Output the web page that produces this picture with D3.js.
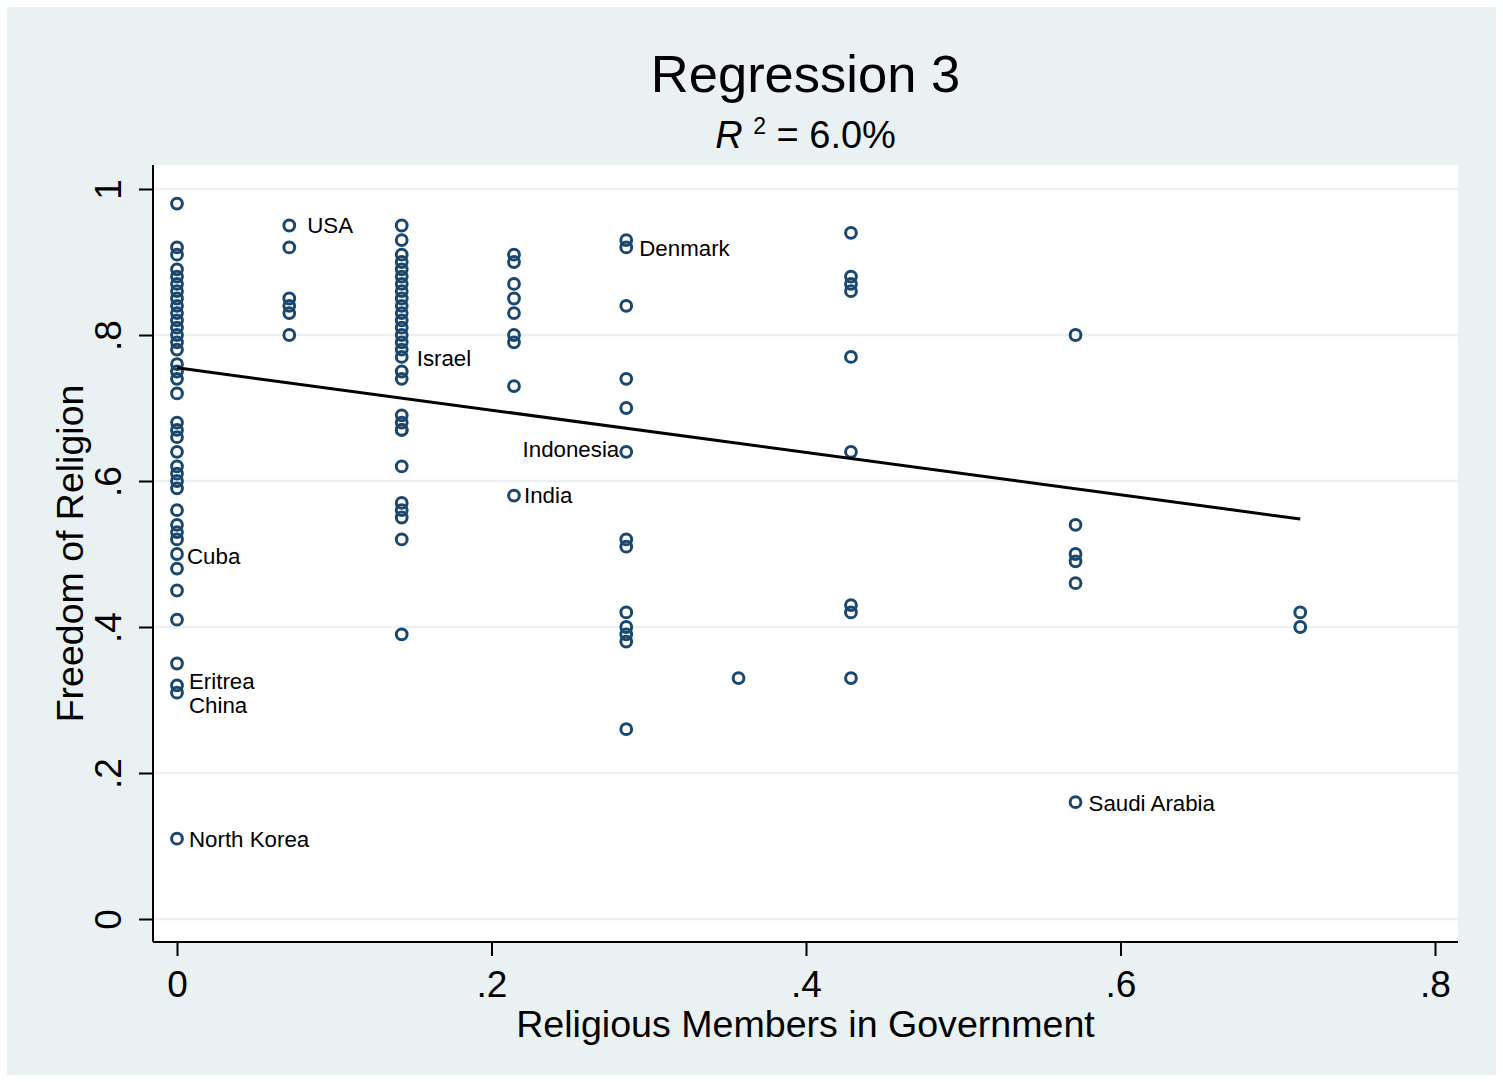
<!DOCTYPE html>
<html>
<head>
<meta charset="utf-8">
<script src="https://cdn.jsdelivr.net/npm/d3@7"></script>
<style>
  html, body { margin: 0; padding: 0; background: #fff; }
  svg { display: block; font-family: "Liberation Sans", Arial, Helvetica, sans-serif; }
</style>
</head>
<body>
<div id="chart"></div>
<script>
// religious members in government (share of cabinet), one entry per column of dots
var govLevels = [0, 0.0714, 0.1429, 0.2143, 0.2857, 0.3571, 0.4286, 0.5714, 0.7143];

var freedomAt0    = [0.98, 0.92, 0.91, 0.89, 0.88, 0.87, 0.86, 0.85, 0.84, 0.83, 0.82, 0.81, 0.80, 0.79, 0.78,
                     0.76, 0.75, 0.74, 0.72, 0.68, 0.67, 0.66, 0.64, 0.62, 0.61, 0.60, 0.59, 0.56, 0.54, 0.53,
                     0.52, 0.50, 0.48, 0.45, 0.41, 0.35, 0.32, 0.31, 0.11];
var freedomAt0071 = [0.95, 0.92, 0.85, 0.84, 0.83, 0.80];
var freedomAt0143 = [0.95, 0.93, 0.91, 0.90, 0.89, 0.88, 0.87, 0.86, 0.85, 0.84, 0.83, 0.82, 0.81, 0.80, 0.79,
                     0.78, 0.77, 0.75, 0.74, 0.69, 0.68, 0.67, 0.67, 0.62, 0.57, 0.56, 0.55, 0.52, 0.39];
var freedomAt0214 = [0.91, 0.90, 0.87, 0.85, 0.83, 0.80, 0.79, 0.73, 0.58];
var freedomAt0286 = [0.93, 0.92, 0.84, 0.74, 0.70, 0.64, 0.52, 0.51, 0.42, 0.40, 0.39, 0.38, 0.26];
var freedomAt0357 = [0.33];
var freedomAt0429 = [0.94, 0.88, 0.87, 0.86, 0.77, 0.64, 0.43, 0.42, 0.33];
var freedomAt0571 = [0.80, 0.54, 0.50, 0.49, 0.46, 0.16];
var freedomAt0714 = [0.42, 0.40];

var freedomColumns = [freedomAt0, freedomAt0071, freedomAt0143, freedomAt0214, freedomAt0286,
                      freedomAt0357, freedomAt0429, freedomAt0571, freedomAt0714];

// labelled countries: [name, government share, freedom]
var countries = [
  ["USA", 0.0714, 0.95],
  ["Denmark", 0.2857, 0.92],
  ["Israel", 0.1429, 0.77],
  ["Indonesia", 0.2857, 0.64],
  ["India", 0.2143, 0.58],
  ["Cuba", 0, 0.50],
  ["Eritrea", 0, 0.32],
  ["China", 0, 0.31],
  ["North Korea", 0, 0.11],
  ["Saudi Arabia", 0.5714, 0.16]
];

// fitted line end points
var fitLine = [[0, 0.755], [0.7143, 0.548]];

var xTicks = [0, 0.2, 0.4, 0.6, 0.8];
var yTicks = [0, 0.2, 0.4, 0.6, 0.8, 1];

var W = 1503, H = 1082;
var plot = {left: 153, right: 1458, top: 165, bottom: 942};
var bg = "#e9f1f3";
var navy = "#1a476f";

var svg = d3.select("#chart").append("svg")
    .attr("width", W)
    .attr("height", H);

svg.append("rect").attr("x", 0).attr("y", 0).attr("width", W).attr("height", H).attr("fill", "#fff");
svg.append("rect").attr("x", 7).attr("y", 7).attr("width", W - 14).attr("height", H - 14).attr("fill", bg);
svg.append("rect")
    .attr("x", plot.left).attr("y", plot.top)
    .attr("width", plot.right - plot.left).attr("height", plot.bottom - plot.top)
    .attr("fill", "#fff");

var x = d3.scaleLinear().domain([0, 0.8]).range([177, 1435]);
var y = d3.scaleLinear().domain([0, 1]).range([919, 189]);

// grid
svg.append("g").selectAll("line")
    .data(yTicks)
    .join("line")
    .attr("x1", plot.left).attr("x2", plot.right)
    .attr("y1", d => y(d)).attr("y2", d => y(d))
    .attr("stroke", bg)
    .attr("stroke-width", 2.5);

var fmt = d => d === 0 ? "0" : d === 1 ? "1" : String(d).replace(/^0/, "");

// x axis
var xAxis = svg.append("g")
    .attr("transform", "translate(0," + plot.bottom + ")")
    .call(d3.axisBottom(x).tickValues(xTicks).tickSize(14).tickSizeOuter(0).tickFormat(fmt));
xAxis.select(".domain").remove();
xAxis.append("line")
    .attr("x1", plot.left).attr("x2", plot.right)
    .attr("stroke", "#000").attr("stroke-width", 2);
xAxis.selectAll(".tick line").attr("stroke", "#000").attr("stroke-width", 2);
xAxis.selectAll(".tick text")
    .attr("y", 55)
    .attr("dy", null)
    .attr("fill", "#000")
    .style("font-size", "37px")
    .style("font-family", "'Liberation Sans', Arial, sans-serif");

// y axis
var yAxis = svg.append("g")
    .attr("transform", "translate(" + plot.left + ",0)")
    .call(d3.axisLeft(y).tickValues(yTicks).tickSize(14).tickSizeOuter(0).tickFormat(fmt));
yAxis.select(".domain").remove();
yAxis.append("line")
    .attr("y1", plot.top).attr("y2", plot.bottom)
    .attr("stroke", "#000").attr("stroke-width", 2);
yAxis.selectAll(".tick line").attr("stroke", "#000").attr("stroke-width", 2);
yAxis.selectAll(".tick text")
    .attr("x", null).attr("dy", null)
    .attr("text-anchor", "middle")
    .attr("transform", "translate(-32,0) rotate(-90)")
    .attr("fill", "#000")
    .style("font-size", "37px")
    .style("font-family", "'Liberation Sans', Arial, sans-serif");

// axis titles
svg.append("text")
    .attr("x", (plot.left + plot.right) / 2)
    .attr("y", 1037)
    .attr("text-anchor", "middle")
    .style("font-size", "37.6px")
    .text("Religious Members in Government");

svg.append("text")
    .attr("transform", "translate(83," + (plot.top + plot.bottom) / 2 + ") rotate(-90)")
    .attr("text-anchor", "middle")
    .style("font-size", "37.5px")
    .text("Freedom of Religion");

// titles
svg.append("text")
    .attr("x", (plot.left + plot.right) / 2)
    .attr("y", 92)
    .attr("text-anchor", "middle")
    .style("font-size", "52.5px")
    .text("Regression 3");

var sub = svg.append("text")
    .attr("x", (plot.left + plot.right) / 2)
    .attr("y", 148)
    .attr("text-anchor", "middle")
    .style("font-size", "38px");
sub.append("tspan").style("font-style", "italic").text("R");
sub.append("tspan").text(" ");
sub.append("tspan").attr("dy", -14).style("font-size", "23px").text("2");
sub.append("tspan").attr("dy", 14).text(" = 6.0%");

// points
var points = [];
freedomColumns.forEach(function(col, i) {
  col.forEach(function(v) { points.push({gov: govLevels[i], freedom: v}); });
});

svg.append("g").selectAll("circle")
    .data(points)
    .join("circle")
    .attr("cx", d => x(d.gov))
    .attr("cy", d => y(d.freedom))
    .attr("r", 5.4)
    .attr("fill", "none")
    .attr("stroke", navy)
    .attr("stroke-width", 3);

// fitted line
svg.append("path")
    .datum(fitLine)
    .attr("d", d3.line().x(d => x(d[0])).y(d => y(d[1])))
    .attr("fill", "none")
    .attr("stroke", "#000")
    .attr("stroke-width", 3);

// marker labels (offsets in pixels)
var labelOffsets = {
  "USA": [18, 0, "start"],
  "Denmark": [13, 1, "start"],
  "Israel": [15, 1, "start"],
  "Indonesia": [-7, -3, "end"],
  "India": [10, 0, "start"],
  "Cuba": [10, 2, "start"],
  "Eritrea": [12, -4, "start"],
  "China": [12, 12, "start"],
  "North Korea": [12, 0, "start"],
  "Saudi Arabia": [13, 1, "start"]
};

svg.append("g").selectAll("text")
    .data(countries)
    .join("text")
    .attr("x", d => x(d[1]) + labelOffsets[d[0]][0])
    .attr("y", d => y(d[2]) + labelOffsets[d[0]][1])
    .attr("dy", "0.35em")
    .attr("text-anchor", d => labelOffsets[d[0]][2])
    .style("font-size", "22.3px")
    .text(d => d[0]);
</script>
</body>
</html>
